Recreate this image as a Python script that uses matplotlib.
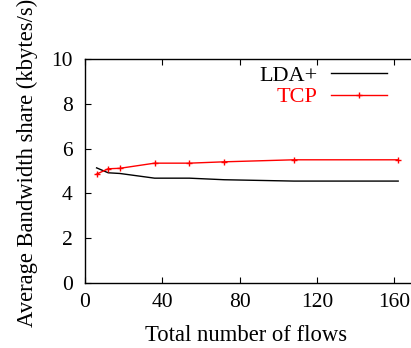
import matplotlib
matplotlib.use("Agg")
import matplotlib.pyplot as plt

# data
flows = [6, 12, 18, 36, 54, 72, 108, 162]
lda_share = [5.14, 4.92, 4.89, 4.68, 4.68, 4.61, 4.55, 4.55]
tcp_share = [4.86, 5.10, 5.12, 5.35, 5.35, 5.41, 5.50, 5.50]
xticks = [0, 40, 80, 120, 160]
yticks = [0, 2, 4, 6, 8, 10]

plt.rcParams['font.family'] = ['Liberation Serif', 'DejaVu Serif']

fig = plt.figure(figsize=(4.11, 3.48), dpi=100)
# right border sits just past the figure edge, as in the reference
ax = fig.add_axes([85 / 411, 65 / 348, 332.5 / 411, 224 / 348])

ax.plot(flows, lda_share, color='black', lw=1.0, label='LDA+')
ax.plot(flows, tcp_share, color='red', lw=1.0, marker='+', ms=4, mew=1.0, label='TCP')

ax.set_xlim(0, 172)
ax.set_ylim(0, 10)
ax.set_xticks(xticks)
ax.set_yticks(yticks)
ax.tick_params(direction='in', top=True, right=True, length=4, width=0.8,
               labelsize=15.5)
ax.tick_params(axis='x', pad=7)
ax.tick_params(axis='y', pad=9)
for s in ax.spines.values():
    s.set_linewidth(1.0)

ax.set_xlabel('Total number of flows', fontsize=16.3)
ax.xaxis.label.set_va('baseline')
ax.xaxis.set_label_coords(0.483, -0.257)
ax.set_ylabel('Average Bandwidth share (kbytes/s)', fontsize=16.3)
ax.yaxis.label.set_va('baseline')
ax.yaxis.set_label_coords(-0.156, 0.536)

leg = ax.legend(loc='upper right', bbox_to_anchor=(0.908, 0.973), frameon=False,
                markerfirst=False, fontsize=16, handlelength=2.5, numpoints=1,
                handletextpad=0.63, labelspacing=0.06, borderpad=0,
                borderaxespad=0)
for txt, col in zip(leg.get_texts(), ['black', 'red']):
    txt.set_color(col)

fig.savefig('out.png', dpi=100)
